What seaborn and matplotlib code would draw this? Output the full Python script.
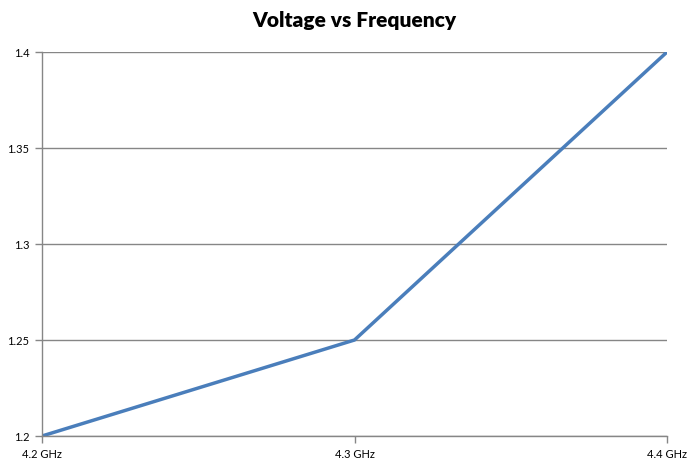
import pandas as pd
import matplotlib
matplotlib.use('Agg')
import matplotlib.pyplot as plt
import seaborn as sns

sns.set_style('white')
plt.rcParams['font.family'] = ['Lato', 'DejaVu Sans']

# data
freqs = ['4.2 GHz', '4.3 GHz', '4.4 GHz']
volts = [1.2, 1.25, 1.4]
yticks = [1.2, 1.25, 1.3, 1.35, 1.4]
ytick_labels = ['1.2', '1.25', '1.3', '1.35', '1.4']

df = pd.DataFrame({'freq': freqs, 'volt': volts})

fig = plt.figure(figsize=(6.96, 4.64), dpi=100)
ax = fig.add_axes([42/696, 1-437/464, (667-42)/696, (437-53)/464])

sns.lineplot(data=df, x='freq', y='volt', ax=ax, color='#4a7ebb', linewidth=2.5, sort=False)

ax.set_xlim(0, len(freqs) - 1)
ax.set_ylim(yticks[0], yticks[-1])
ax.set_yticks(yticks)
ax.set_yticklabels(ytick_labels)
ax.set_xticks(range(len(freqs)))
ax.set_xticklabels(freqs)
ax.set_xlabel('')
ax.set_ylabel('')

ax.grid(axis='y', color='#868686', linewidth=1)
ax.set_axisbelow(True)
for s in ['top', 'right']:
    ax.spines[s].set_visible(False)
for s in ['left', 'bottom']:
    ax.spines[s].set_color('#868686')
    ax.spines[s].set_linewidth(1)

ax.tick_params(axis='both', labelsize=8, colors='#868686', labelcolor='black',
               length=5, width=1, direction='out', left=True, bottom=True, pad=4)

ax.set_title('Voltage vs Frequency', fontsize=15, fontweight='heavy', color='black', pad=19)

fig.savefig('out.png', dpi=100)
